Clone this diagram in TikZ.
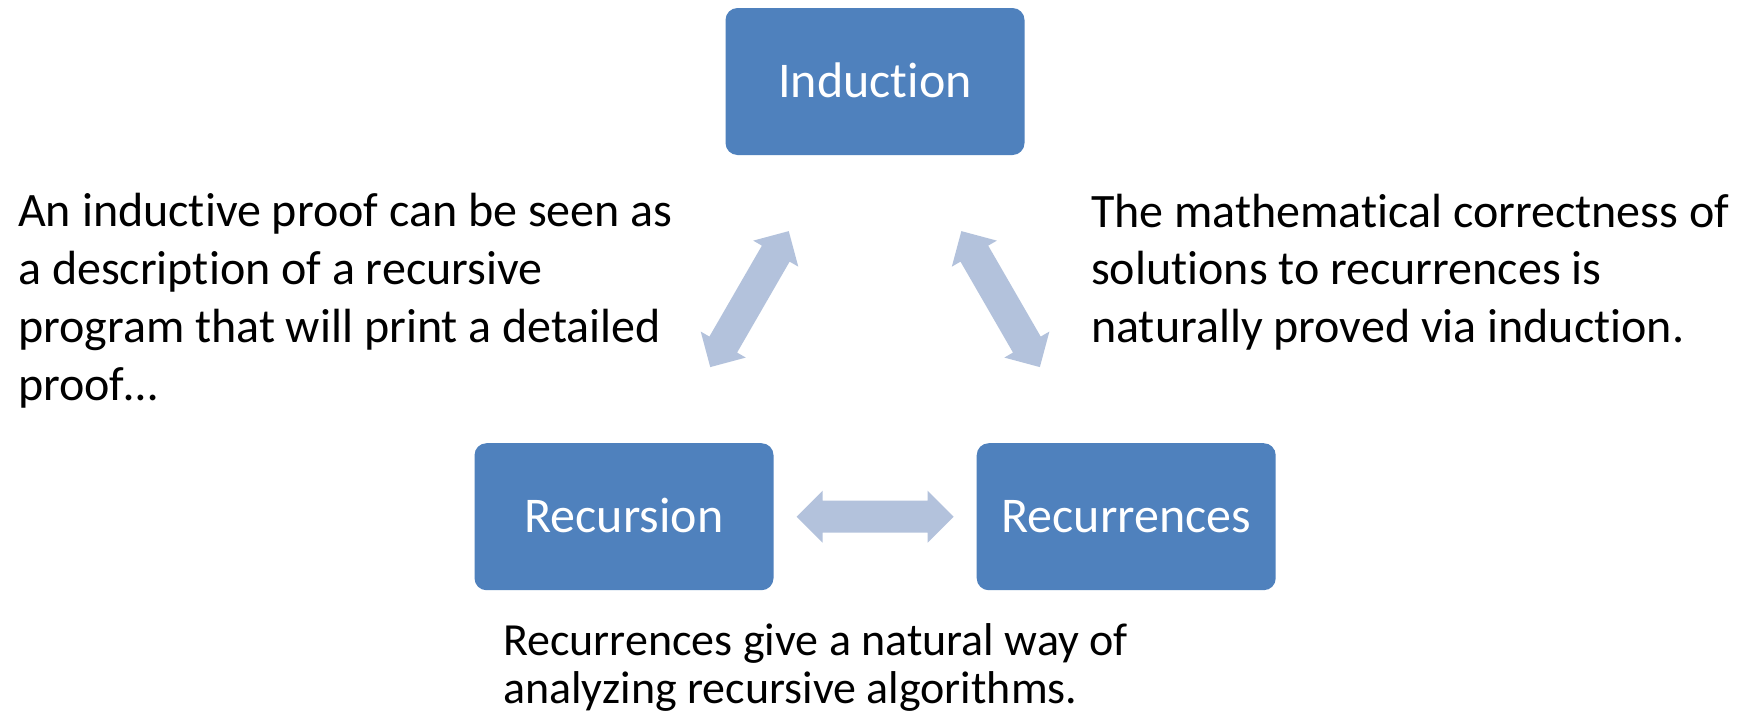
\documentclass[tikz,border=0pt]{standalone}
\usepackage{fontspec}
\setmainfont{Carlito}[Ligatures={NoCommon,NoContextual}]
\definecolor{boxblue}{HTML}{4F81BD}
\definecolor{arrowblue}{HTML}{B3C2DC}
\tikzset{
  topicbox/.style={fill=boxblue, rounded corners=12pt, minimum width=299pt, minimum height=147pt,
    inner sep=0pt, text=white, font=\fontsize{50}{60}\selectfont, text height=32pt, text depth=0pt},
  note/.style={anchor=base west, align=left, inner sep=0pt, font=\fontsize{48}{57.7}\selectfont},
  smallnote/.style={anchor=base west, align=left, inner sep=0pt, font=\fontsize{46}{48}\selectfont},
  dblarrow/.pic={\fill[arrowblue] (-78.5,0) -- (-52.5,-26) -- (-52.5,-16) -- (52.5,-16) -- (52.5,-26)
    -- (78.5,0) -- (52.5,26) -- (52.5,16) -- (-52.5,16) -- (-52.5,26) -- cycle;}
}
\begin{document}
\begin{tikzpicture}[x=1pt, y=-1pt]
\useasboundingbox[fill=white] (0,0) rectangle (1747,715);
\node[topicbox] (ind) at (875,81.5) {Induction};
\node[topicbox] (rec) at (624,516.7) {Recursion};
\node[topicbox] (recs) at (1126.2,516.7) {Recurrences};
% anchor "base" of a multi-line node is the baseline of its last line
\node[note] (lefttext) at (18,400) {An inductive proof can be seen as\\a description of a recursive\\program that will print a detailed\\proof\dots};
\node[note] (righttext) at (1091,342.5) {The mathematical correctness of\\solutions to recurrences is\\naturally proved via induction.};
\node[smallnote] (bottomtext) at (503,703) {Recurrences give a natural way of\\analyzing recursive algorithms.};
\path (ind.south west) -- (rec.north east) coordinate[midway] (aL);
\path (ind.south east) -- (recs.north west) coordinate[midway] (aR);
\path (rec.east) -- (recs.west) coordinate[midway] (aH);
\pic[rotate=60] at (aL) {dblarrow};
\pic[rotate=-60] at (aR) {dblarrow};
\pic at (aH) {dblarrow};
\end{tikzpicture}
\end{document}
